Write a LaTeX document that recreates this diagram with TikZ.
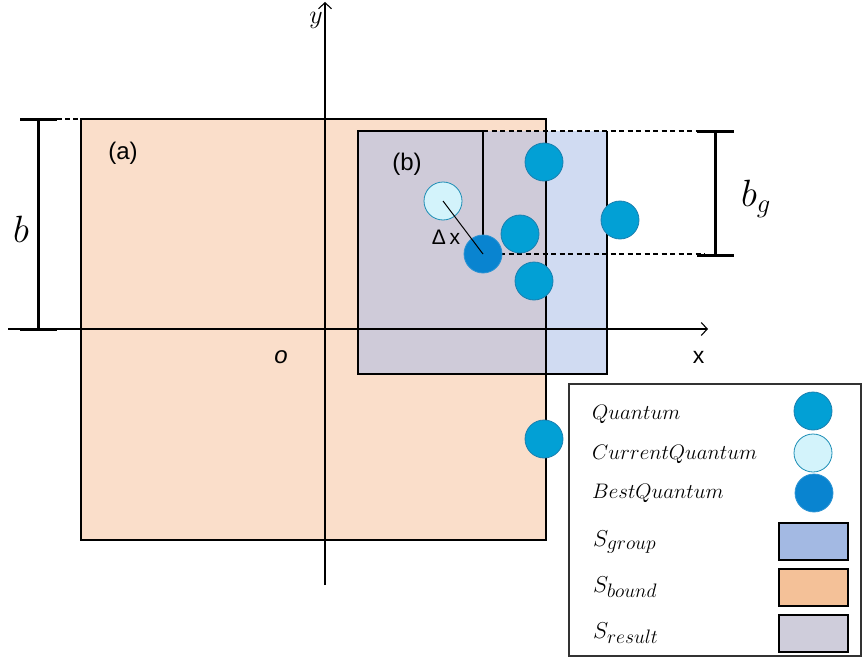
\documentclass[tikz,border=0pt]{standalone}
\usepackage{fix-cm}
\usepackage{fontspec}
\newfontfamily\sansA{Liberation Sans}
\DeclareMathSizes{23}{23}{19.5}{15}
\usetikzlibrary{arrows.meta}
\definecolor{orfill}{RGB}{250,222,202}
\definecolor{blfill}{RGB}{208,219,242}
\definecolor{grfill}{RGB}{207,203,217}
\definecolor{legor}{RGB}{244,193,152}
\definecolor{legbl}{RGB}{163,185,227}
\definecolor{leggr}{RGB}{207,205,219}
\definecolor{qfill}{RGB}{2,160,213}
\definecolor{qedge}{RGB}{26,127,175}
\definecolor{cfill}{RGB}{211,243,251}
\definecolor{cedge}{RGB}{28,141,181}
\definecolor{bfill}{RGB}{9,132,208}
\definecolor{bedge}{RGB}{46,148,212}
\begin{document}
\begin{tikzpicture}[x=1pt,y=-1pt,
  bd/.style={draw=black,line width=1.1pt},
  qball/.style={circle,minimum size=38pt,inner sep=0pt,fill=qfill,draw=qedge,line width=0.8pt},
  curball/.style={qball,fill=cfill,draw=cedge},
  bestball/.style={qball,fill=bfill,draw=bedge},
  brk/.style={line width=3pt},
  dsh/.style={line width=1.2pt,dash pattern=on 5pt off 3.5pt},
  axis/.style={line width=1.1pt,-{Straight Barb[length=6pt,width=13pt]}},
  sanslbl/.style={font=\sansA\fontsize{24}{28}\selectfont,inner sep=0pt},
  legtxt/.style={anchor=base west,inner sep=0pt,font=\fontsize{21}{25}\selectfont},
  legS/.style={anchor=base west,inner sep=0pt,font=\fontsize{23}{27}\selectfont},
  legbox/.style={draw=black,line width=1.2pt,minimum width=69pt,minimum height=37pt,inner sep=0pt},
  biglbl/.style={font=\fontsize{38}{42}\selectfont,inner sep=0pt}]
\useasboundingbox (0,0) rectangle (862,661);
% regions
\fill[orfill] (81,119) rectangle (546,540);
\fill[blfill] (358,131) rectangle (607,374);
\fill[grfill] (358,131) rectangle (546,374);
\draw[bd] (81,119) rectangle (546,540);
\draw[bd] (483,131) -- (358,131) -- (358,374) -- (607,374) -- (607,131);
% axes
\coordinate (xs) at (8,329);
\coordinate (xe) at (708,329);
\coordinate (ys) at (325,585);
\coordinate (ye) at (325,2);
\draw[axis] (xs) -- (xe);
\draw[axis] (ys) -- (ye);
\node[font=\fontsize{26}{30}\selectfont,inner sep=0pt] (ylab) at (316,20) {$y$};
\node[sanslbl,font=\sansA\fontsize{23}{27}\selectfont] (xlab) at (698.5,357) {x};
\node[sanslbl,font=\sansA\itshape\fontsize{24}{28}\selectfont] (olab) at (281,357) {o};
\node[sanslbl] (alab) at (123,153) {(a)};
\node[sanslbl] (blab) at (407,164) {(b)};
% group box guides
\coordinate (gtl) at (483,131);
\coordinate (gbl) at (483,254);
\coordinate (gtr) at (705,131);
\coordinate (gbr) at (705,254);
\draw[line width=1.1pt] (gtl) -- (gbl);
\draw[dsh] (gtl) -- (gtr);
\draw[dsh] (gbl) -- (gbr);
% b bracket
\coordinate (bt) at (38,119);
\coordinate (bb) at (38,329);
\draw[brk] (bt) -- (bb);
\draw[brk] (20,119) -- (57,119);
\draw[brk] (20,329) -- (57,329);
\draw[line width=1.3pt,dash pattern=on 5pt off 3pt] (57,119) -- (95,119);
\draw[line width=1.8pt,dash pattern=on 6pt off 3pt] (57,329) -- (108,329);
\node[biglbl] (blbl) at (21,229) {$b$};
% b_g bracket
\coordinate (gt) at (715,131);
\coordinate (gb) at (715,255);
\draw[brk] (gt) -- (gb);
\draw[brk] (697,131) -- (734,131);
\draw[brk] (697,255) -- (734,255);
\node[biglbl] (bglbl) at (756,199) {$b_g$};
% quanta
\node[qball] (q1) at (544,162) {};
\node[qball] (q2) at (520,234) {};
\node[qball] (q3) at (534,281) {};
\node[qball] (q4) at (620,220) {};
\node[qball] (q5) at (544,439) {};
\node[curball] (cur) at (443,201) {};
\node[bestball] (best) at (483,254) {};
\draw[line width=1pt] (cur.center) -- (best.center);
\node[sanslbl,font=\sansA\fontsize{21}{25}\selectfont] (dx) at (446,237) {Δ\,x};
% legend
\node[draw=black!80,line width=1.3pt,minimum width=292pt,minimum height=272pt,inner sep=0pt] (leg) at (715,520) {};
\node[legtxt] (t1) at (592,419) {$Quantum$};
\node[legtxt] (t2) at (592,459) {$CurrentQuantum$};
\node[legtxt] (t3) at (592,498) {$BestQuantum$};
\node[legS] (t4) at (593,546) {$S_{group}$};
\node[legS] (t5) at (593,592) {$S_{bound}$};
\node[legS] (t6) at (593,638) {$S_{result}$};
\node[qball] (l1) at (813,411) {};
\node[curball] (l2) at (813,453) {};
\node[bestball] (l3) at (814,493) {};
\node[legbox,fill=legbl] (l4) at (813.5,541.5) {};
\node[legbox,fill=legor] (l5) at (813.5,587.5) {};
\node[legbox,fill=leggr] (l6) at (813.5,633.5) {};
\end{tikzpicture}
\end{document}
